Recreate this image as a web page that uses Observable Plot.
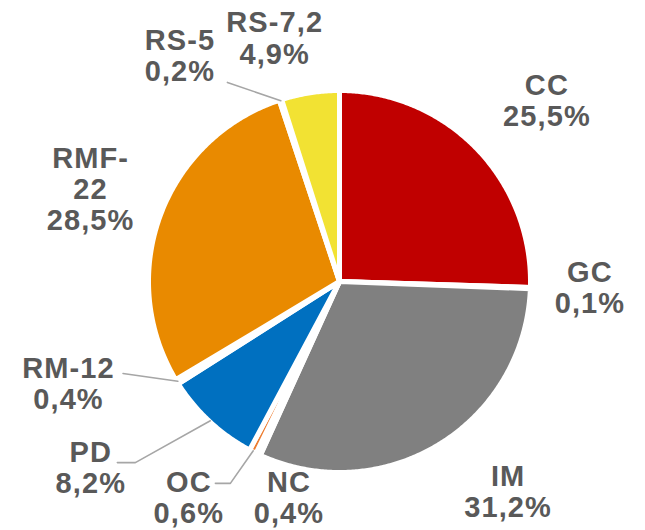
<!DOCTYPE html>
<html><head><meta charset="utf-8">
<script src="https://cdn.jsdelivr.net/npm/d3@7"></script>
<script src="https://cdn.jsdelivr.net/npm/@observablehq/plot@0.6"></script>
<style>html,body{margin:0;padding:0;background:#fff}</style>
</head><body><div id="chart"></div>
<script>
// ---- data ----
const categories = ["CC", "GC", "IM", "NC", "OC", "PD", "RM-12", "RMF-22", "RS-5", "RS-7,2"];
const shares = [25.5, 0.1, 31.2, 0.4, 0.6, 8.2, 0.4, 28.5, 0.2, 4.9];
const labelNames = ["CC", "GC", "IM", "NC", "OC", "PD", "RM-12", "RMF-\n22", "RS-5", "RS-7,2"];

// ---- styles / layout ----
const colors = ["#C00000", "#A5A5A5", "#808080", "#FFC000", "#ED7D31", "#0070C0", "#4472C4", "#E98A00", "#70AD47", "#F2E233"];
const W = 645, H = 530, CX = 339, CY = 281, R = 191;
// label placement: angle nudge from slice mid-angle (deg) and distance from centre (px)
const labelPlace = {
  "CC": [2.9, 275], "GC": [-0.6, 250], "IM": [-7, 269], "NC": [-11.9, 222], "OC": [8, 263.5],
  "PD": [10.4, 311], "RM-12": [11.1, 290], "RMF-22": [0, 266], "RS-5": [-17.3, 277], "RS-7,2": [-6.2, 252]
};
// leader lines: extra points as offsets from label centre (px)
const leaderPlace = {
  "RS-5": [[48, 27]],
  "RM-12": [[55, -10]],
  "PD": [[45, -5], [27, -5]],
  "OC": [[42, -14], [27, -14]]
};

const fmt = v => v.toFixed(1).replace(".", ",") + "%";
const arcs = d3.pie().sort(null).value(d => d)(shares);
const deg = Math.PI / 180;
const pt = (a, r) => ({x: r * Math.sin(a), y: -r * Math.cos(a)});

const polys = [];
arcs.forEach((a, i) => {
  const name = categories[i];
  polys.push({name, ...pt(0, 0)});
  const n = Math.max(2, Math.ceil((a.endAngle - a.startAngle) / (0.5 * deg)));
  for (let k = 0; k <= n; k++) {
    const ang = a.startAngle + (a.endAngle - a.startAngle) * k / n;
    polys.push({name, ...pt(ang, R)});
  }
  polys.push({name, ...pt(0, 0)});
});

const labels = arcs.map((a, i) => {
  const name = categories[i];
  const mid = (a.startAngle + a.endAngle) / 2;
  const [nudge, dist] = labelPlace[name];
  const p = pt(mid + nudge * deg, dist);
  return {name, mid, ...p, text: labelNames[i] + "\n" + fmt(shares[i])};
});

const leaders = [];
labels.forEach(l => {
  const extra = leaderPlace[l.name];
  if (!extra) return;
  leaders.push({name: l.name, ...pt(l.mid, R - 1)});
  extra.forEach(([dx, dy]) => leaders.push({name: l.name, x: l.x + dx, y: l.y + dy}));
});

const chart = Plot.plot({
  width: W, height: H, margin: 0,
  style: {background: "white", overflow: "visible", letterSpacing: "1.1px"},
  x: {type: "linear", domain: [-CX, W - CX], range: [0, W], axis: null},
  y: {type: "linear", domain: [-CY, H - CY], range: [0, H], axis: null},
  color: {domain: categories, range: colors},
  marks: [
    Plot.line(polys, {x: "x", y: "y", z: "name", fill: "name", stroke: "white", strokeWidth: 5, strokeLinejoin: "round", curve: "linear"}),
    Plot.line(leaders, {x: "x", y: "y", z: "name", stroke: "#A6A6A6", strokeWidth: 1.6, curve: "linear"}),
    Plot.text(labels, {x: "x", y: "y", dx: 0.5, text: "text", fontSize: 29, fontWeight: "bold", fill: "#595959", lineHeight: 1.08, fontFamily: "'Liberation Sans', Arial, sans-serif"})
  ]
});
document.getElementById("chart").appendChild(chart);
</script>
</body></html>
